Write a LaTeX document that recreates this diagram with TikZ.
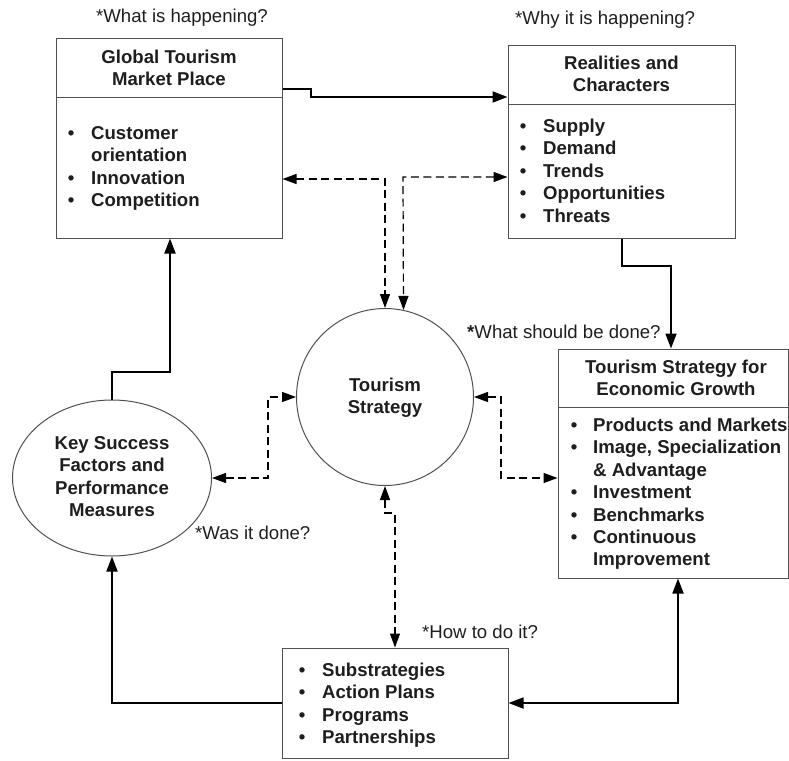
\documentclass[tikz,border=0pt]{standalone}
\usepackage{fontspec}
\setmainfont{Liberation Sans}
\usetikzlibrary{arrows.meta,shapes.geometric}
\definecolor{txt}{RGB}{30,30,30}
\definecolor{edge}{RGB}{80,80,80}
\tikzset{
  frame/.style={draw=edge,line width=1pt,rectangle,inner sep=0pt},
  divider/.style={draw=edge,line width=1pt},
  plain/.style={inner sep=0pt,text=txt,font=\fontsize{18.6pt}{22.4pt}\selectfont},
  heading/.style={inner sep=0pt,text=txt,font=\fontsize{18.6pt}{22.4pt}\selectfont\bfseries},
  conn/.style={line width=1.8pt,-{Triangle[length=15pt,width=11pt]}},
  biconn/.style={line width=1.8pt,{Triangle[length=15pt,width=11pt]}-{Triangle[length=15pt,width=11pt]}},
  dconn/.style={line width=1.2pt,dash pattern=on 8pt off 4.5pt,{Triangle[length=14pt,width=10pt]}-{Triangle[length=14pt,width=10pt]}},
}
\begin{document}
\begin{tikzpicture}[x=1pt,y=-1pt]
\useasboundingbox (0,0) rectangle (789,760);

% boxes
\node[frame,minimum width=226pt,minimum height=199pt] (b1) at (169,138.5) {};
\node[frame,minimum width=227pt,minimum height=192pt] (b2) at (621.5,142) {};
\node[frame,minimum width=230pt,minimum height=229pt] (b3) at (673,463.5) {};
\node[frame,minimum width=226pt,minimum height=110pt] (b4) at (395,703) {};
\node[draw=edge,line width=1pt,ellipse,minimum width=199pt,minimum height=156pt,inner sep=0pt] (ks) at (112,478) {};
\node[draw=edge,line width=1pt,circle,minimum size=177pt,inner sep=0pt] (ts) at (385,397) {};

% dividers
\coordinate (d1) at (0,97);
\coordinate (d2) at (0,104);
\coordinate (d3) at (0,407);
\draw[divider] (b1.west |- d1) -- (b1.east |- d1);
\draw[divider] (b2.west |- d2) -- (b2.east |- d2);
\draw[divider] (b3.west |- d3) -- (b3.east |- d3);

% titles
\node[heading,anchor=base] (t1) at (169,63.5) {\begin{tabular}[t]{@{}c@{}}Global Tourism\\Market Place\end{tabular}};
\node[heading,anchor=base] (t2) at (621.5,69.5) {\begin{tabular}[t]{@{}c@{}}Realities and\\Characters\end{tabular}};
\node[heading,anchor=base] (t3) at (676,373.5) {\begin{tabular}[t]{@{}c@{}}Tourism Strategy for\\Economic Growth\end{tabular}};
\node[heading,anchor=base] (tst) at (385,391.5) {\begin{tabular}[t]{@{}c@{}}Tourism\\Strategy\end{tabular}};
\node[heading,anchor=base] (kst) at (112,449.5) {\begin{tabular}[t]{@{}c@{}}Key Success\\Factors and\\Performance\\Measures\end{tabular}};

% lists
\node[heading,anchor=base west] (l1) at (67.7,139.5) {\begin{tabular}[t]{@{}p{23.3pt}@{}l@{}}\textbullet & Customer\\ & orientation\\ \textbullet & Innovation\\ \textbullet & Competition\end{tabular}};
\node[heading,anchor=base west] (l2) at (519.7,132.5) {\begin{tabular}[t]{@{}p{23.3pt}@{}l@{}}\textbullet & Supply\\ \textbullet & Demand\\ \textbullet & Trends\\ \textbullet & Opportunities\\ \textbullet & Threats\end{tabular}};
\node[heading,anchor=base west] (l3) at (570.7,431.5) {\begin{tabular}[t]{@{}p{22.3pt}@{}l@{}}\textbullet & Products and Markets\\ \textbullet & Image, Specialization\\ & \& Advantage\\ \textbullet & Investment\\ \textbullet & Benchmarks\\ \textbullet & Continuous\\ & Improvement\end{tabular}};
\node[heading,anchor=base west] (l4) at (298.7,676.5) {\begin{tabular}[t]{@{}p{23.3pt}@{}l@{}}\textbullet & Substrategies\\ \textbullet & Action Plans\\ \textbullet & Programs\\ \textbullet & Partnerships\end{tabular}};

% questions
\node[plain,anchor=base west] (q1) at (96,22.7) {*What is happening?};
\node[plain,anchor=base west] (q2) at (515,24.5) {*Why it is happening?};
\node[plain,anchor=base west] (q3) at (467,338.5) {\textbf{*}What should be done?};
\node[plain,anchor=base west] (q4) at (195,539.5) {*Was it done?};
\node[plain,anchor=base west] (q5) at (422,638.5) {*How to do it?};

% solid connectors
\coordinate (p1) at (311,89);
\coordinate (p2) at (311,97);
\draw[conn] (b1.east |- p1) -- (p1) -- (p2) -- (b2.west |- p2);
\coordinate (r1) at (622,266);
\coordinate (r2) at (671,266);
\draw[conn] (b2.south -| r1) -- (r1) -- (r2) -- (b3.north -| r2);
\coordinate (s1) at (112,372);
\coordinate (s2) at (170,372);
\draw[conn] (ks.north) -- (s1) -- (s2) -- (b1.south -| s2);
\draw[conn] (b4.west) -| (ks.south);
\coordinate (e1) at (678,0);
\draw[biconn] (b3.south -| e1) |- (b4.east);

% dashed connectors
\coordinate (u1) at (385,179);
\draw[dconn] (b1.east |- u1) -- (u1) -- (ts.north);
\coordinate (u2) at (403,177);
\draw[dconn] (b2.west |- u2) -- (u2) -- (ts.78.3);
\coordinate (v1) at (268,397);
\draw[dconn] (ks.east) -| (v1) -- (ts.west);
\coordinate (w1) at (501,478);
\draw[dconn] (ts.east) -| (w1) -- (b3.west |- w1);
\coordinate (z1) at (385,513);
\coordinate (z2) at (395,513);
\draw[dconn] (ts.south) -- (z1) -- (z2) -- (b4.north);
\end{tikzpicture}
\end{document}
